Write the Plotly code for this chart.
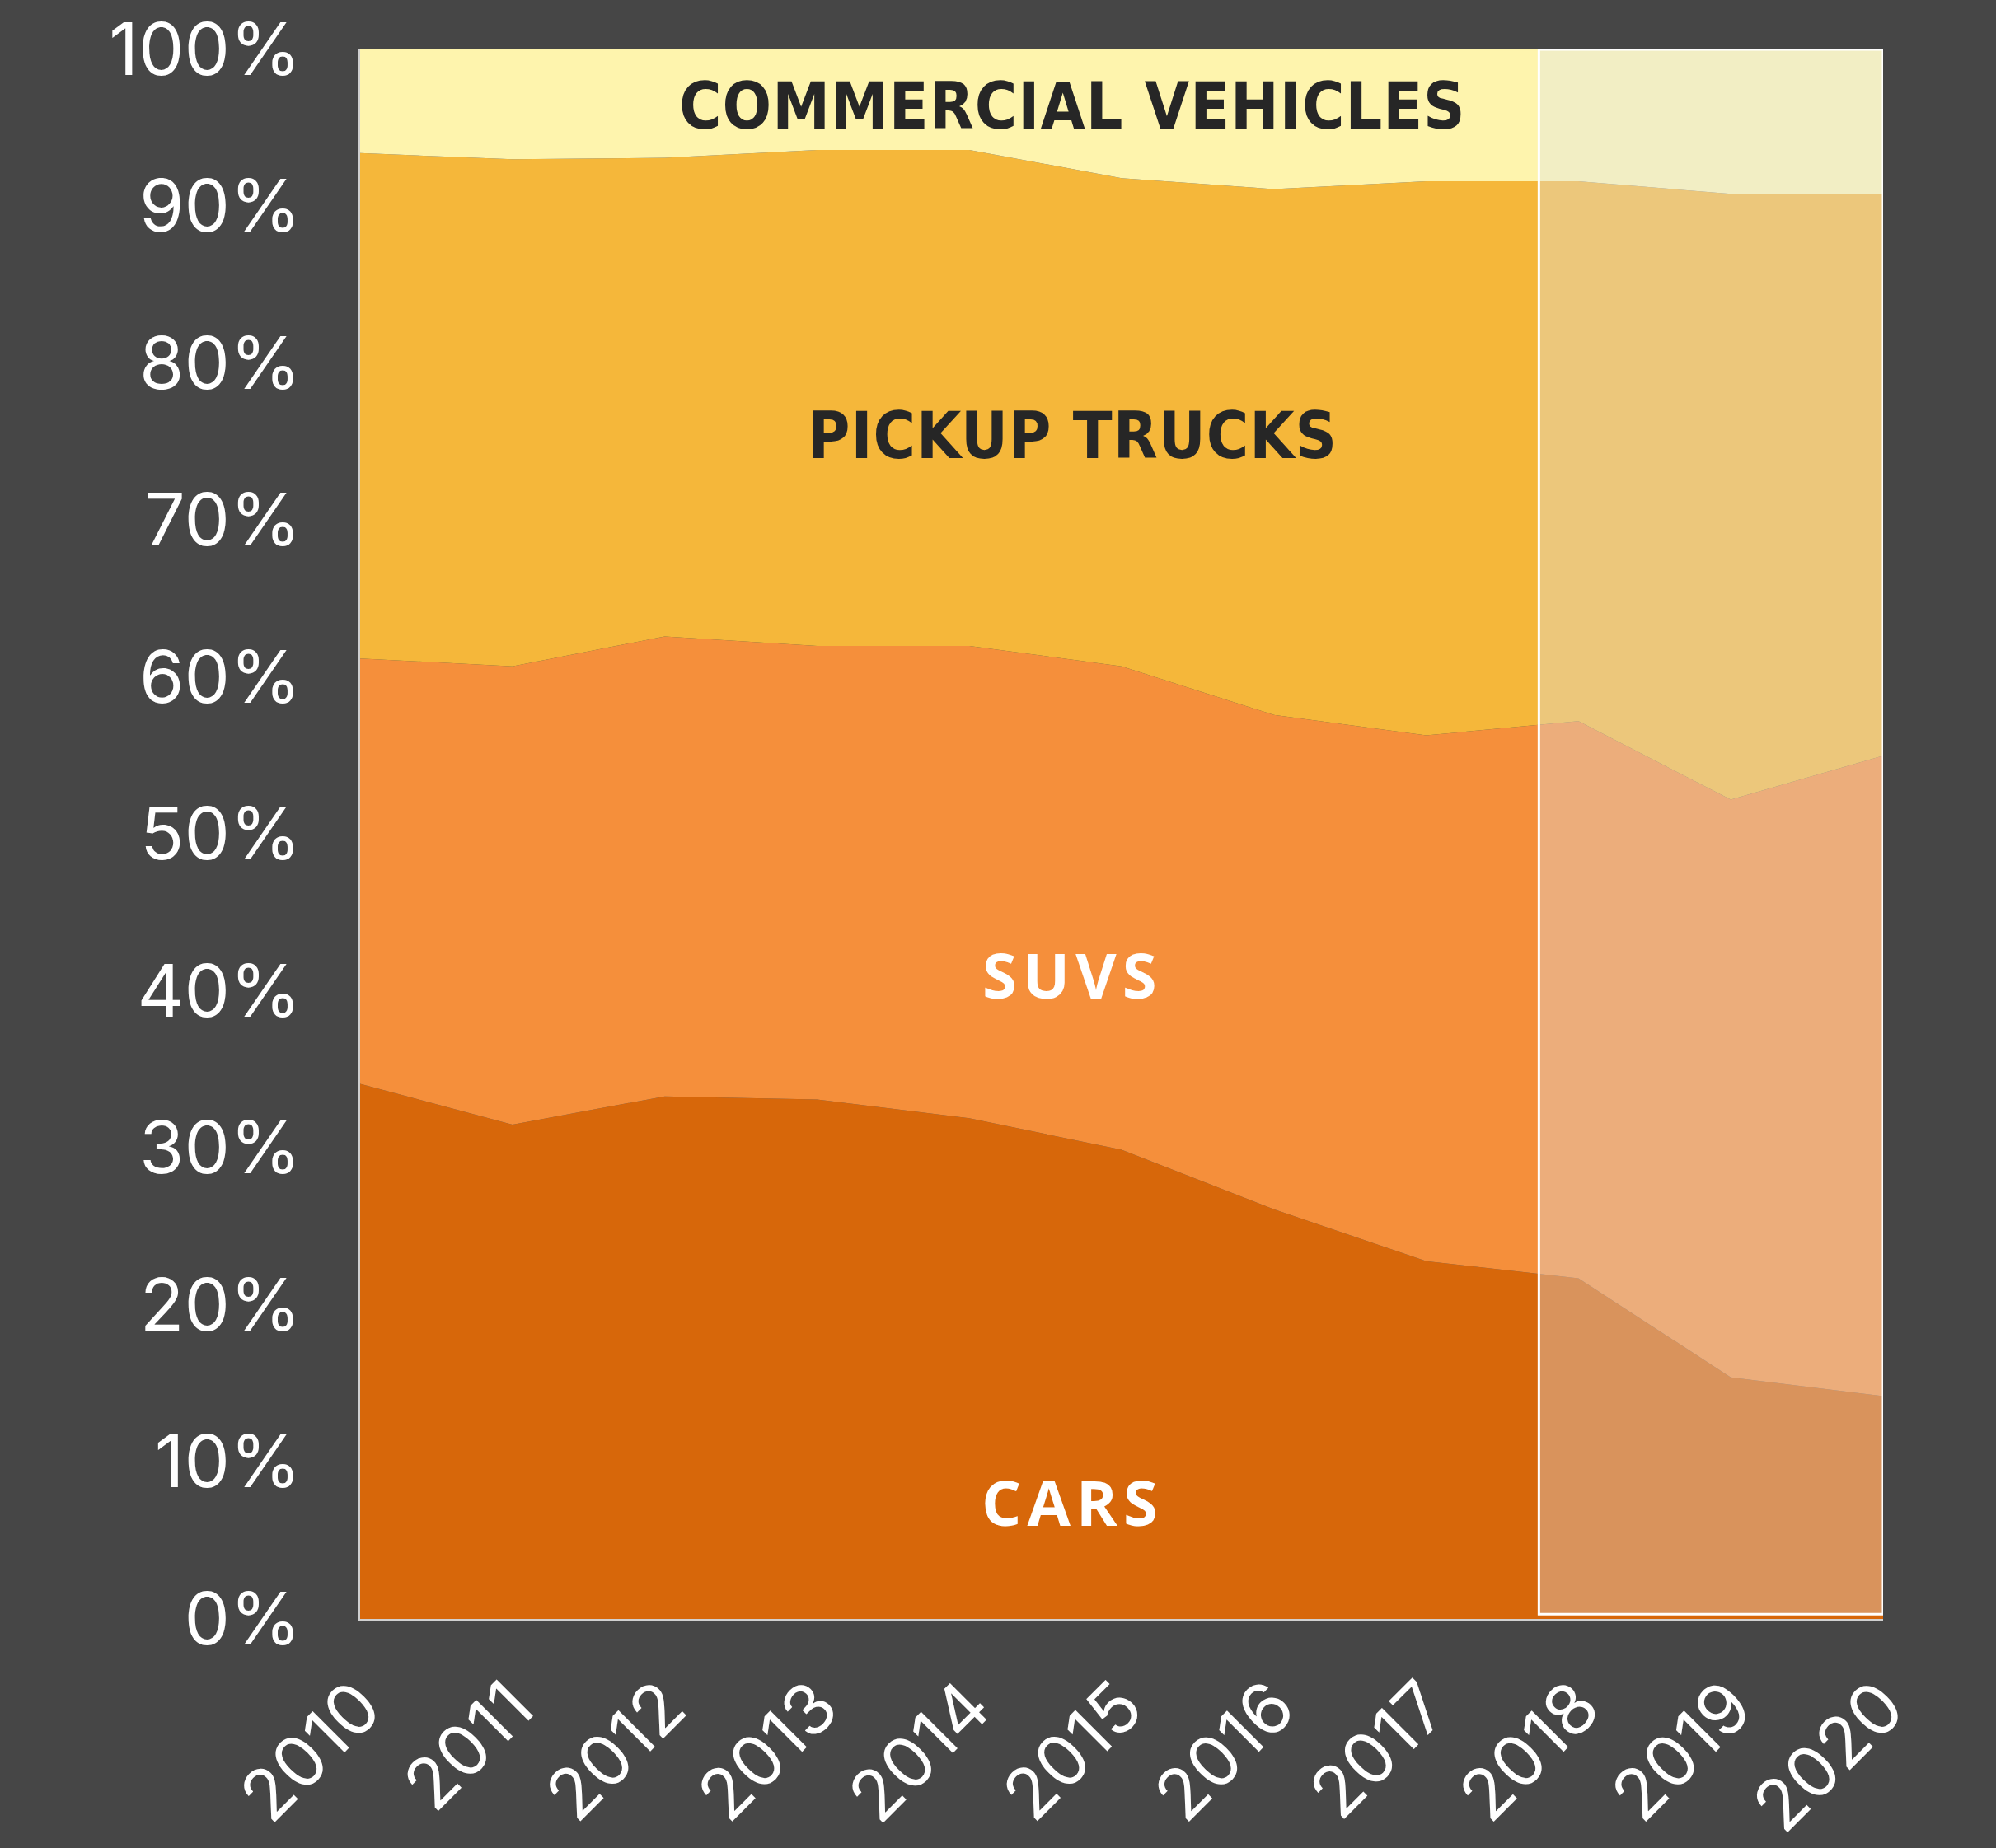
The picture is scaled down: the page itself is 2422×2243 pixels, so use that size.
import plotly.graph_objects as go

years = [2010, 2011, 2012, 2013, 2014, 2015, 2016, 2017, 2018, 2019, 2020]
cars = [34.1, 31.5, 33.3, 33.1, 31.9, 29.9, 26.1, 22.8, 21.7, 15.4, 14.2]
suvs = [27.1, 29.2, 29.3, 28.9, 30.1, 30.8, 31.5, 33.5, 35.5, 36.8, 40.8]
pickups = [32.2, 32.3, 30.5, 31.6, 31.6, 31.1, 33.5, 35.3, 34.4, 38.6, 35.8]
commercial = [6.6, 7.0, 6.9, 6.4, 6.4, 8.2, 8.9, 8.4, 8.4, 9.2, 9.2]
series_names = ["CARS", "SUVS", "PICKUP TRUCKS", "COMMERCIAL VEHICLES"]
y_ticks = [0, 10, 20, 30, 40, 50, 60, 70, 80, 90, 100]
y_tick_labels = ["0%", "10%", "20%", "30%", "40%", "50%", "60%", "70%", "80%", "90%", "100%"]
forecast_start = 2017.74

colors = ["#D7670A", "#F58F3B", "#F5B73A", "#FEF4AD"]
bg = "#464646"

fig = go.Figure()
for name, vals, col in zip(series_names, [cars, suvs, pickups, commercial], colors):
    fig.add_trace(go.Scatter(
        x=years, y=vals, name=name, mode="lines", stackgroup="one",
        line=dict(width=0, color=col), fillcolor=col, showlegend=False,
        hoverinfo="x+y+name",
    ))

# forecast overlay
fig.add_shape(type="rect", xref="x", yref="y", x0=forecast_start, x1=years[-1],
              y0=0.3, y1=100, layer="above",
              fillcolor="rgba(222,226,238,0.36)",
              line=dict(color="white", width=3))

label_x = 2014.68
cond_style = "font-stretch:condensed;letter-spacing:1px"
wide_style = "letter-spacing:7px"
def lbl(text, style):
    return f'<span style="{style}"><b>{text}</b></span>'

fig.add_annotation(x=label_x, y=96.4, text=lbl("COMMERCIAL VEHICLES", cond_style), showarrow=False,
                   font=dict(family="DejaVu Sans", size=78, color="#262626"))
fig.add_annotation(x=label_x, y=75.4, text=lbl("PICKUP TRUCKS", cond_style), showarrow=False,
                   font=dict(family="DejaVu Sans", size=78, color="#262626"))
fig.add_annotation(x=label_x, y=41.1, text=lbl("SUVS", wide_style), showarrow=False,
                   font=dict(family="Open Sans, sans-serif", size=76, color="white"))
fig.add_annotation(x=label_x, y=7.5, text=lbl("CARS", wide_style), showarrow=False,
                   font=dict(family="Open Sans, sans-serif", size=76, color="white"))

fig.update_layout(
    width=2422, height=2243,
    paper_bgcolor=bg, plot_bgcolor=bg,
    margin=dict(l=437, r=137, t=60, b=278, autoexpand=False),
    font=dict(family="Inter, Lato, sans-serif", color="white", size=80),
)
fig.update_xaxes(
    range=[2010, 2020], tickvals=years, ticktext=[str(y) for y in years],
    tickangle=-45, showgrid=False, zeroline=False, automargin=False,
    showline=True, linecolor="#d0d0d0", linewidth=2,
    tickfont=dict(size=86, color="white"), ticklabelstandoff=20,
)
fig.update_yaxes(
    range=[0, 100], tickvals=y_ticks, ticktext=y_tick_labels,
    showgrid=False, zeroline=False, automargin=False,
    showline=True, linecolor="#d0d0d0", linewidth=2,
    tickfont=dict(size=88, color="white"), ticklabelstandoff=52,
)

fig.write_html("out.html")
